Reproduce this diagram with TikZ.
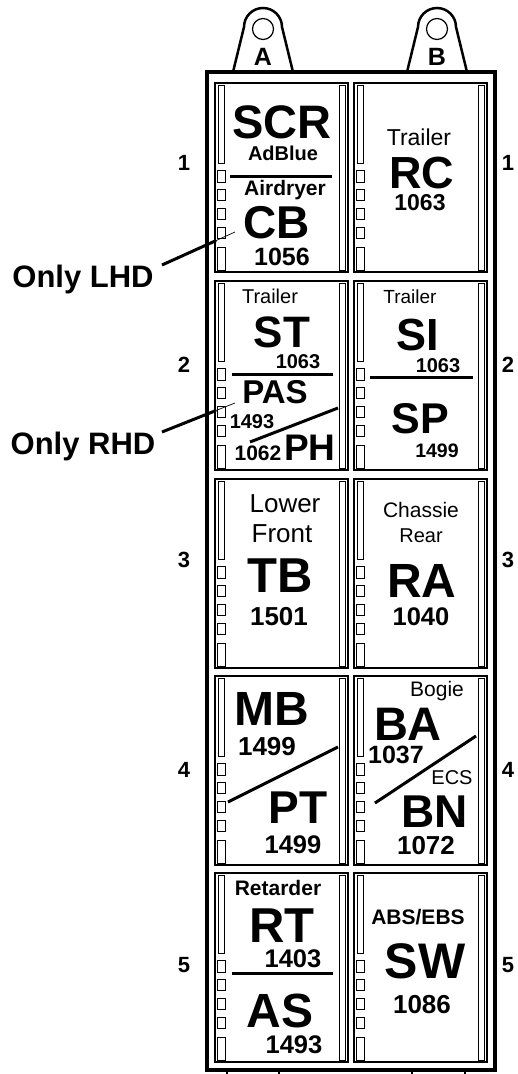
\documentclass[tikz,border=0pt]{standalone}
\usepackage{fontspec}
\setmainfont{Liberation Sans}
\newcommand{\fz}[1]{\fontsize{#1}{#1}\selectfont}
\newcommand{\fusecell}[2]{%
  \begin{scope}[shift={(#1,#2)}]
    \draw[cellb] (0,0) rectangle (133,189);
    \draw[stripb] (3,2) rectangle (9,80);
    \foreach \a/\b in {87/99,106/117,125/136,144/155,164/187}
      \draw[stripb] (2,\a) rectangle (10,\b);
    \draw[stripb] (124,2) rectangle (130,187);
  \end{scope}}
\begin{document}
\begin{tikzpicture}[x=1pt,y=-1pt,
  cellb/.style={line width=1.5pt},
  stripb/.style={line width=0.9pt},
  sepline/.style={line width=3pt},
  framel/.style={line width=3.5pt},
  tabl/.style={line width=2.5pt},
  b/.style={anchor=base,inner sep=0pt,font=\bfseries},
  r/.style={anchor=base,inner sep=0pt},
  lead/.style={line width=3pt},
  leadthin/.style={line width=0.7pt}]
\useasboundingbox (0,0) rectangle (518,1074);
% frame
\draw[framel] (207,72) rectangle (495,1070);
\foreach \x in {227,279,412,465} \draw[line width=2pt] (\x,1070) -- (\x,1074);
% tabs
\draw[tabl] (233,72) -- (244,27) arc[start angle=180,end angle=360,radius=19] -- (293,72);
\draw[line width=1.2pt] (263,29) circle[radius=10.5];
\node[b] (labA) at (263,65) {\fz{25}A};
\draw[tabl] (407,72) -- (418,27) arc[start angle=180,end angle=360,radius=19] -- (467,72);
\draw[line width=1.2pt] (437,29) circle[radius=10.5];
\node[b] (labB) at (437,65) {\fz{25}B};
% cells
\foreach \y in {83,281,479,676,873} {\fusecell{215}{\y}\fusecell{354}{\y}}
% row numbers
\foreach \n/\y in {1/170,2/372,3/567,4/777,5/972} {
  \node[b] (numL\n) at (184,\y) {\fz{22}\n};
  \node[b] (numR\n) at (508,\y) {\fz{22}\n};
}
% row 1 left
\node[b] (scr) at (282,138) {\fz{47}SCR};
\node[b] (adblue) at (283,160) {\fz{20}AdBlue};
\draw[sepline] (230,176) -- (332,176);
\node[b] (airdryer) at (285,195) {\fz{21}Airdryer};
\node[b] (cb) at (277,238) {\fz{46}CB};
\node[b] (n1056) at (282,265) {\fz{25}1056};
% row 1 right
\node[r] (trl1) at (419,145) {\fz{23}Trailer};
\node[b] (rc) at (422,188) {\fz{45}RC};
\node[b] (n1063a) at (420,210) {\fz{23}1063};
% row 2 left
\node[r] (trl2) at (270,303) {\fz{20}Trailer};
\node[b] (st) at (282,347) {\fz{44}ST};
\node[b] (n1063b) at (298,368) {\fz{20}1063};
\draw[sepline] (232,374) -- (333,374);
\node[b] (pas) at (275,403) {\fz{33}PAS};
\node[b] (n1493a) at (252,428) {\fz{20}1493};
\draw[sepline] (250,442) -- (338,408);
\node[b] (n1062) at (258,460) {\fz{21}1062};
\node[b] (ph) at (310,460) {\fz{37}PH};
% row 2 right
\node[r] (trl3) at (410,303) {\fz{19}Trailer};
\node[b] (si) at (418,350) {\fz{45}SI};
\node[b] (n1063c) at (438,372) {\fz{20}1063};
\draw[sepline] (370,377) -- (473,377);
\node[b] (sp) at (420,433) {\fz{43}SP};
\node[b] (n1499a) at (437,457) {\fz{19.5}1499};
% row 3 left
\node[r] (lower) at (285,512) {\fz{26}Lower};
\node[r] (front) at (282,542) {\fz{26}Front};
\node[b] (tb) at (280,592) {\fz{49}TB};
\node[b] (n1501) at (279,625) {\fz{26}1501};
% row 3 right
\node[r] (chassie) at (421,517) {\fz{21}Chassie};
\node[r] (rear) at (421,542) {\fz{20}Rear};
\node[b] (ra) at (422,597) {\fz{48}RA};
\node[b] (n1040) at (421,625) {\fz{25.5}1040};
% row 4 left
\node[b] (mb) at (272,725) {\fz{48}MB};
\node[b] (n1499b) at (267,755) {\fz{26}1499};
\draw[sepline] (228,802) -- (338,747);
\node[b] (pt) at (298,823) {\fz{46}PT};
\node[b] (n1499c) at (293,853) {\fz{25.5}1499};
% row 4 right
\node[r] (bogie) at (437,696) {\fz{21}Bogie};
\node[b] (ba) at (408,740) {\fz{47}BA};
\node[b] (n1037) at (396,763) {\fz{25}1037};
\draw[sepline] (375,803) -- (476,736);
\node[r] (ecs) at (452,784) {\fz{20}ECS};
\node[b] (bn) at (435,827) {\fz{46}BN};
\node[b] (n1072) at (426,854) {\fz{26}1072};
% row 5 left
\node[b] (retarder) at (278,895) {\fz{21}Retarder};
\node[b] (rt) at (282,942) {\fz{49}RT};
\node[b] (n1403) at (293,967) {\fz{25.5}1403};
\draw[sepline] (232,973) -- (333,973);
\node[b] (as) at (280,1027) {\fz{48}AS};
\node[b] (n1493b) at (294,1053) {\fz{25.5}1493};
% row 5 right
\node[b] (absebs) at (418,924) {\fz{21}ABS/EBS};
\node[b] (sw) at (425,978) {\fz{50}SW};
\node[b] (n1086) at (422,1013) {\fz{26}1086};
% side labels
\node[b] (lhd) at (83,287) {\fz{31}Only LHD};
\node[b] (rhd) at (83,454) {\fz{31}Only RHD};
\coordinate (lhdA) at (162,265);
\coordinate (lhdB) at (216,240.6);
\coordinate (lhdC) at (235,232);
\draw[lead] (lhdA) -- (lhdB);
\draw[leadthin] (lhdB) -- (lhdC);
\coordinate (rhdA) at (162,432);
\coordinate (rhdB) at (216,410.5);
\coordinate (rhdC) at (235,403);
\draw[lead] (rhdA) -- (rhdB);
\draw[leadthin] (rhdB) -- (rhdC);
\end{tikzpicture}
\end{document}
